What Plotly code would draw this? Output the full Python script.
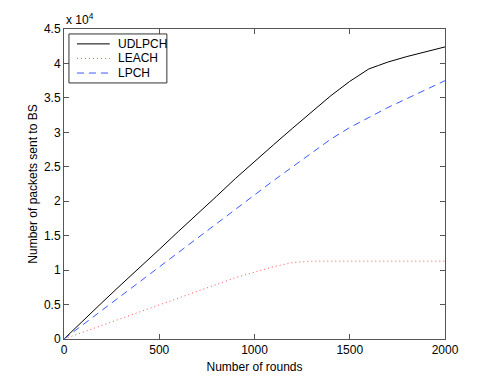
import plotly.graph_objects as go

# Rondas simuladas
rounds = [0, 100, 200, 300, 400, 500, 600, 700, 800, 900, 1000, 1100, 1200,
          1300, 1400, 1500, 1600, 1650, 1700, 1800, 1900, 2000]

# Paquetes enviados a la BS (x 10^4)
udlpch = [0, 0.27, 0.53, 0.79, 1.04, 1.30, 1.56, 1.81, 2.07, 2.33, 2.58, 2.82, 3.06,
          3.30, 3.53, 3.74, 3.92, 3.97, 4.02, 4.10, 4.17, 4.24]
leach = [0, 0.10, 0.20, 0.30, 0.40, 0.50, 0.60, 0.70, 0.80, 0.89, 0.97, 1.05, 1.11,
         1.13, 1.13, 1.13, 1.13, 1.13, 1.13, 1.13, 1.13, 1.13]
lpch = [0, 0.21, 0.42, 0.63, 0.84, 1.05, 1.26, 1.47, 1.68, 1.89, 2.09, 2.30, 2.50,
        2.70, 2.90, 3.07, 3.22, 3.29, 3.36, 3.49, 3.62, 3.75]

series_names = ['UDLPCH', 'LEACH', 'LPCH']
y_ticks = [0, 0.5, 1, 1.5, 2, 2.5, 3, 3.5, 4, 4.5]
x_ticks = [0, 500, 1000, 1500, 2000]

estilos = [dict(color='black', width=1, dash='solid'),
           dict(color='#ff5050', width=1, dash='1px,3px'),
           dict(color='#3c5aff', width=1, dash='7px,5px')]

fig = go.Figure()
for nombre, valores, estilo in zip(series_names, [udlpch, leach, lpch], estilos):
    fig.add_trace(go.Scatter(x=rounds, y=[v * 1e4 for v in valores], name=nombre,
                             mode='lines', line=estilo, showlegend=False))

axis_common = dict(showgrid=False, zeroline=False, showline=True, mirror='ticks',
                   linecolor='#555555', linewidth=1, ticks='inside', ticklen=5,
                   tickcolor='#555555', tickfont=dict(size=12, color='black'),
                   automargin=False)

fig.update_xaxes(range=[0, 2000], tickvals=x_ticks, title=dict(text='Number of rounds', standoff=6,
                 font=dict(size=12, color='black')), **axis_common)
fig.update_yaxes(range=[0, 45000], tickvals=[v * 1e4 for v in y_ticks],
                 ticktext=[f'{v:g}' for v in y_ticks],
                 title=dict(text='Number of packets sent to BS', standoff=3,
                            font=dict(size=12, color='black')), **axis_common)

fig.add_annotation(text='x 10<sup>4</sup>', xref='paper', yref='paper', x=0, y=1,
                   xanchor='left', yanchor='bottom', showarrow=False, yshift=0,
                   font=dict(size=12, color='black'))

# Leyenda estilo MATLAB (caja compacta arriba a la izquierda)
fig.add_shape(type='rect', xref='paper', yref='paper', x0=0.013, x1=0.270, y0=0.826, y1=0.984,
              line=dict(color='#333333', width=1), fillcolor='white', layer='above')
leyenda_y = [0.952, 0.905, 0.858]
for nombre, estilo, yy in zip(series_names, estilos, leyenda_y):
    fig.add_shape(type='line', xref='paper', yref='paper', x0=0.034, x1=0.120, y0=yy, y1=yy,
                  line=estilo, layer='above')
    fig.add_annotation(text=nombre, xref='paper', yref='paper', x=0.137, y=yy,
                       xanchor='left', yanchor='middle', showarrow=False,
                       font=dict(size=12, color='black'))

fig.update_layout(
    width=491, height=382,
    margin=dict(l=64, r=46, t=29, b=43),
    plot_bgcolor='white', paper_bgcolor='white',
    font=dict(family='Liberation Sans, Arial, sans-serif', size=12, color='black'),
)

fig.write_html('out.html', config={'displayModeBar': False},
               post_script="document.body.style.margin='0px';")
